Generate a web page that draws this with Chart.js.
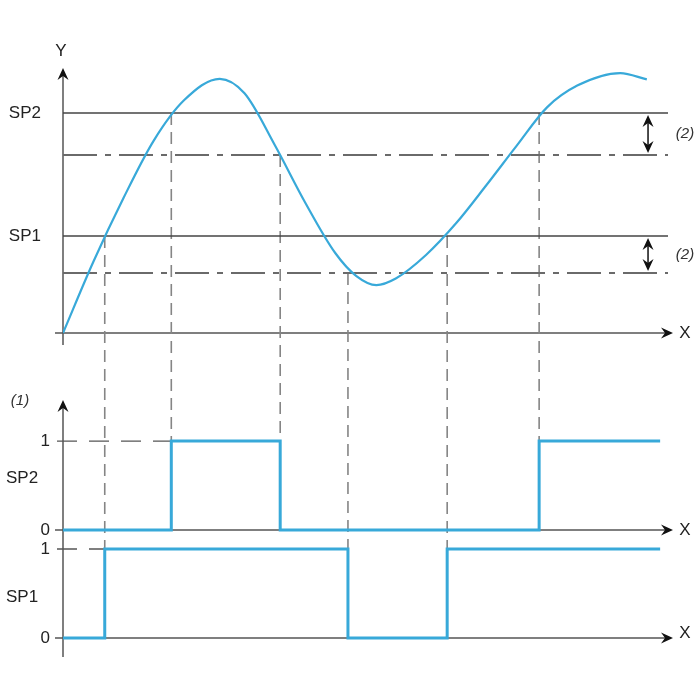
<!DOCTYPE html>
<html><head><meta charset="utf-8">
<style>html,body{margin:0;padding:0;background:#fff}#wrap{width:700px;height:700px;position:relative}</style>
<script src="https://cdn.jsdelivr.net/npm/chart.js@4.4.1/dist/chart.umd.min.js"></script>
</head><body><div id="wrap"><canvas id="c"></canvas></div>
<script>
// ---- data ----
const curveX = [0, 0.5, 1, 1.5, 2, 2.59, 3, 3.5, 4, 4.5, 4.85, 5.18, 5.5, 6, 6.5, 7, 7.5, 8, 8.5, 9.21, 9.65];
const curveY = [0, 3.23, 6.14, 8.75, 10.58, 11.56, 10.9, 8.55, 5.95, 3.64, 2.59, 2.18, 2.48, 3.55, 5.0, 6.73, 8.52, 10.26, 11.25, 11.82, 11.53];
const thresholdNames = ['SP1', 'SP2'];
const thresholdHigh = [4.41, 10];
const thresholdLow = [2.73, 8.09];
const sp2Times = [0, 1.79, 3.59, 7.87, 9.87];
const sp2States = [0, 1, 0, 1, 1];
const sp1Times = [0, 0.69, 4.71, 6.35, 9.87];
const sp1States = [0, 1, 0, 1, 1];
const guideTimes = [0.69, 1.79, 3.59, 4.71, 6.35, 7.87];
const guideFromLevel = [4.41, 10, 8.09, 2.73, 4.41, 10];
const guideToPanel = ['ySP1', 'ySP2', 'ySP2', 'ySP1', 'ySP1', 'ySP2'];
const stateTicks = [0, 1];
const xRange = [0, 10];
const hystMarkerT = 9.67;

// ---- styles ----
Chart.defaults.font.family = '"Liberation Sans", Arial, sans-serif';
const BLUE = '#38a9d9';
const AXIS = '#555';
const TXT = '#222';

const lineDs = (pts, yAxisID, extra) => Object.assign({
  data: pts, yAxisID, pointRadius: 0, fill: false, borderCapStyle: 'butt'
}, extra);

const datasets = [
  lineDs(curveX.map((x, i) => ({x, y: curveY[i]})), 'y',
    {borderColor: BLUE, borderWidth: 2.2, cubicInterpolationMode: 'monotone', order: 0}),
  ...thresholdHigh.map(v => lineDs([{x: xRange[0], y: v}, {x: xRange[1], y: v}], 'y',
    {borderColor: '#444', borderWidth: 1.5, order: 2})),
  ...thresholdLow.map(v => lineDs([{x: xRange[0], y: v}, {x: xRange[1], y: v}], 'y',
    {borderColor: '#6a6a6a', borderWidth: 2, borderDash: [34, 8, 6, 8], order: 2})),
  lineDs(sp2Times.map((x, i) => ({x, y: sp2States[i]})), 'ySP2',
    {borderColor: BLUE, borderWidth: 3, stepped: 'before', order: 0}),
  lineDs(sp1Times.map((x, i) => ({x, y: sp1States[i]})), 'ySP1',
    {borderColor: BLUE, borderWidth: 3, stepped: 'before', order: 0})
];

const fitW = s => { s.width = 63; };
const baseY = (weight, min, max, tickVals, labelFn, pad) => ({
  type: 'linear', position: 'left', stack: 'v', stackWeight: weight, min, max,
  grid: {display: false, drawTicks: false}, border: {display: false},
  afterBuildTicks: s => { s.ticks = tickVals.map(v => ({value: v})); },
  afterFit: fitW,
  ticks: {callback: labelFn, padding: pad, color: TXT, font: {size: 17}, autoSkip: false}
});

function arrowHead(ctx, x, y, dir) {
  const L = 12, W = 5.5, N = 4;
  ctx.save();
  ctx.translate(x, y);
  if (dir === 'right') ctx.rotate(Math.PI / 2);
  if (dir === 'down') ctx.rotate(Math.PI);
  ctx.beginPath();
  ctx.moveTo(0, 0);
  ctx.lineTo(W, L);
  ctx.lineTo(0, L - N);
  ctx.lineTo(-W, L);
  ctx.closePath();
  ctx.fillStyle = '#111';
  ctx.fill();
  ctx.restore();
}

const diagram = {
  id: 'diagram',
  beforeDatasetsDraw(chart) {
    const {ctx, chartArea: a, scales: s} = chart;
    const x0 = s.x.getPixelForValue(0);
    ctx.save();
    ctx.strokeStyle = AXIS; ctx.lineWidth = 1.5; ctx.setLineDash([]);
    const yTop0 = s.y.getPixelForValue(0);
    ctx.beginPath();
    ctx.moveTo(x0, a.top + 2); ctx.lineTo(x0, yTop0 + 12);
    ctx.moveTo(x0 - 8, yTop0); ctx.lineTo(a.right + 2, yTop0);
    ctx.moveTo(x0, s.ySP2.getPixelForValue(1.46) + 2); ctx.lineTo(x0, s.ySP1.getPixelForValue(0) + 19);
    for (const id of ['ySP2', 'ySP1']) {
      const py = s[id].getPixelForValue(0);
      ctx.moveTo(x0 - 8, py); ctx.lineTo(a.right + 2, py);
    }
    ctx.stroke();
    ctx.strokeStyle = '#858585'; ctx.lineWidth = 1.6; ctx.setLineDash([12, 7]);
    guideTimes.forEach((t, i) => {
      const px = s.x.getPixelForValue(t);
      ctx.beginPath();
      ctx.moveTo(px, s.y.getPixelForValue(guideFromLevel[i]));
      ctx.lineTo(px, s[guideToPanel[i]].getPixelForValue(1));
      ctx.stroke();
    });
    ctx.strokeStyle = '#555'; ctx.lineWidth = 1.3; ctx.setLineDash([20, 12]);
    [['ySP2', sp2Times[1]], ['ySP1', sp1Times[1]]].forEach(([id, t]) => {
      const py = s[id].getPixelForValue(1);
      ctx.beginPath();
      ctx.moveTo(x0 - 6, py); ctx.lineTo(s.x.getPixelForValue(t), py);
      ctx.stroke();
    });
    ctx.restore();
  },
  afterDatasetsDraw(chart) {
    const {ctx, chartArea: a, scales: s} = chart;
    const x0 = s.x.getPixelForValue(0);
    const yTop0 = s.y.getPixelForValue(0);
    const lowTop = s.ySP2.getPixelForValue(1.46);
    ctx.save();
    arrowHead(ctx, x0, a.top, 'up');
    arrowHead(ctx, x0, lowTop, 'up');
    const xEnd = a.right + 5;
    arrowHead(ctx, xEnd, yTop0, 'right');
    arrowHead(ctx, xEnd, s.ySP2.getPixelForValue(0), 'right');
    arrowHead(ctx, xEnd, s.ySP1.getPixelForValue(0), 'right');
    const hx = s.x.getPixelForValue(hystMarkerT);
    ctx.strokeStyle = '#111'; ctx.lineWidth = 1.5;
    thresholdHigh.forEach((v, i) => {
      const p1 = s.y.getPixelForValue(v) + 2, p2 = s.y.getPixelForValue(thresholdLow[i]) - 2;
      ctx.beginPath(); ctx.moveTo(hx, p1 + 6); ctx.lineTo(hx, p2 - 6); ctx.stroke();
      arrowHead(ctx, hx, p1, 'up');
      arrowHead(ctx, hx, p2, 'down');
      ctx.fillStyle = '#333'; ctx.font = 'italic 15px "Liberation Sans", Arial, sans-serif';
      ctx.textAlign = 'center'; ctx.textBaseline = 'middle';
      ctx.fillText('(2)', a.right + 17, (p1 + p2) / 2);
    });
    ctx.fillStyle = TXT; ctx.font = '17px "Liberation Sans", Arial, sans-serif';
    ctx.textAlign = 'center'; ctx.textBaseline = 'middle';
    ctx.fillText('Y', x0 - 2, a.top - 17);
    ctx.fillText('X', a.right + 17, yTop0);
    ctx.fillText('X', a.right + 17, s.ySP2.getPixelForValue(0));
    ctx.fillText('X', a.right + 17, s.ySP1.getPixelForValue(0) - 5);
    ctx.textAlign = 'left';
    ctx.fillText('SP2', 6, s.ySP2.getPixelForValue(0.58));
    ctx.fillText('SP1', 6, s.ySP1.getPixelForValue(0.46));
    ctx.font = 'italic 15px "Liberation Sans", Arial, sans-serif';
    ctx.textAlign = 'center';
    ctx.fillStyle = '#333';
    ctx.fillText('(1)', x0 - 43, lowTop + 1);
    ctx.restore();
  }
};

new Chart(document.getElementById('c'), {
  type: 'line',
  data: {datasets},
  options: {
    responsive: true, maintainAspectRatio: false, animation: false,
    layout: {padding: {top: 68, bottom: 40, left: 0, right: 32}},
    plugins: {legend: {display: false}, tooltip: {enabled: false}},
    scales: {
      x: {type: 'linear', display: false, min: xRange[0], max: xRange[1]},
      ySP1: baseY(120, -0.247, 1.101, stateTicks, v => String(v), 13),
      ySP2: baseY(170, -0.112, 1.798, stateTicks, v => String(v), 13),
      y: baseY(302, -1.68, 12.05, thresholdHigh, v => thresholdNames[thresholdHigh.indexOf(v)], 22)
    }
  },
  plugins: [diagram]
});
</script>
</body></html>
